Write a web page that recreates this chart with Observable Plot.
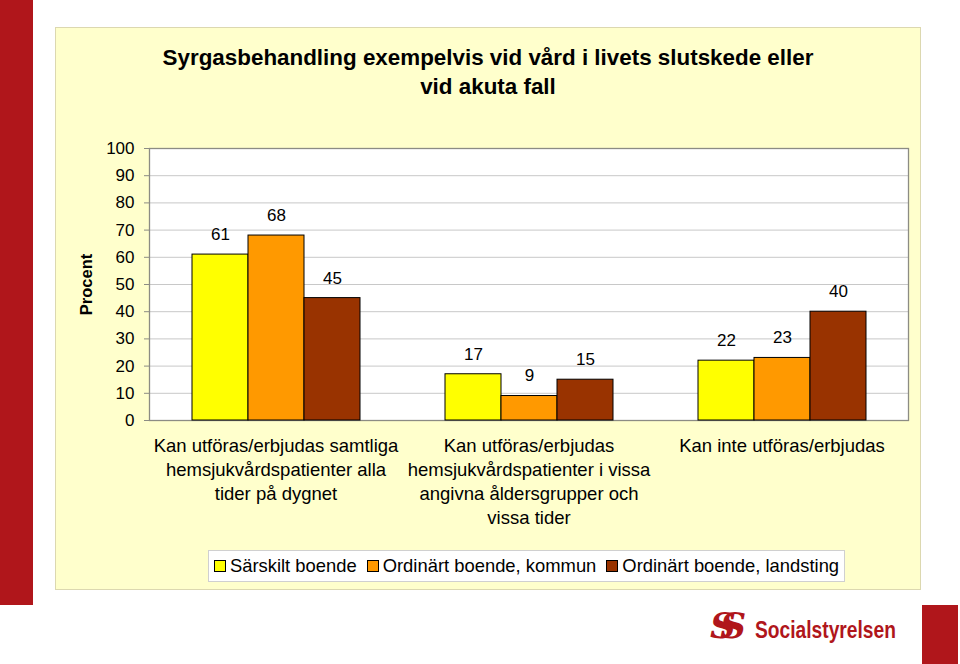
<!DOCTYPE html>
<html><head><meta charset="utf-8">
<script src="https://cdn.jsdelivr.net/npm/d3@7"></script>
<script src="https://cdn.jsdelivr.net/npm/@observablehq/plot@0.6"></script>
<style>
body{margin:0;background:#fff;font-family:"Liberation Sans",Arial,Helvetica,sans-serif;}
#page{position:relative;width:960px;height:664px;overflow:hidden;background:#fff;}
.redL{position:absolute;left:0;top:0;width:33px;height:605px;background:#B0161B;}
.redR{position:absolute;left:922px;top:605px;width:36px;height:59px;background:#B0161B;}
.panel{position:absolute;left:55px;top:27px;width:866px;height:563px;box-sizing:border-box;background:#FFFFCC;border:1px solid #dcd8b0;}
#chart{position:absolute;left:0;top:0;}
.title{position:absolute;left:55px;width:866px;top:43px;text-align:center;font-weight:bold;font-size:22.4px;line-height:29px;color:#000;}
.legend{position:absolute;left:208px;top:550px;width:637px;height:32px;box-sizing:border-box;background:#fff;border:1px solid #d0d0d0;display:flex;align-items:center;justify-content:center;font-size:18.4px;white-space:nowrap;}
.legend .sw{display:inline-block;width:10px;height:10px;border:1px solid #000;margin-right:4px;}
.legend .it{display:flex;align-items:center;margin:0 5px;}
.logo{position:absolute;left:710px;top:612px;height:44px;color:#B0161B;}
.logo .mark{position:absolute;left:0;top:-8px;font-family:"DejaVu Serif",serif;font-weight:bold;font-style:italic;font-size:36px;letter-spacing:-15px;white-space:nowrap;}
.logo .name{position:absolute;left:45px;top:6px;font-family:"Liberation Sans",Arial,sans-serif;font-weight:bold;font-size:24px;white-space:nowrap;transform:scaleX(0.8);transform-origin:0 0;line-height:1;}
</style></head><body>
<div id="page">
  <div class="redL"></div>
  <div class="panel"></div>
  <div id="chart"></div>
  <div class="title">Syrgasbehandling exempelvis vid vård i livets slutskede eller<br>vid akuta fall</div>
  <div class="legend" id="legend"></div>
  <div class="logo"><span class="mark">SS</span><span class="name">Socialstyrelsen</span></div>
  <div class="redR"></div>
</div>
<script>
const categories = [
  "Kan utföras/erbjudas samtliga\nhemsjukvårdspatienter alla\ntider på dygnet",
  "Kan utföras/erbjudas\nhemsjukvårdspatienter i vissa\nangivna åldersgrupper och\nvissa tider",
  "Kan inte utföras/erbjudas"
];
const series = ["Särskilt boende", "Ordinärt boende, kommun", "Ordinärt boende, landsting"];
const colors = ["#FFFF00", "#FF9900", "#993300"];
const valuesSarskilt = [61, 17, 22];
const valuesKommun = [68, 9, 23];
const valuesLandsting = [45, 15, 40];
const yTicks = [0, 10, 20, 30, 40, 50, 60, 70, 80, 90, 100];
const yLabel = "Procent";

const seriesValues = [valuesSarskilt, valuesKommun, valuesLandsting];
const data = categories.flatMap((c, i) => series.map((s, j) => ({group: c, series: s, value: seriesValues[j][i]})));

const chart = Plot.plot({
  width: 960, height: 664,
  marginLeft: 148, marginRight: 52, marginTop: 148, marginBottom: 244,
  style: {background: "transparent", fontFamily: "'Liberation Sans', Arial, sans-serif", overflow: "visible"},
  fx: {domain: categories, padding: 0, axis: null},
  x: {domain: series, paddingInner: 0, paddingOuter: 0.75, axis: null},
  y: {domain: [0, 100], axis: null},
  color: {domain: series, range: colors},
  marks: [
    Plot.frame({fill: "white", stroke: null, facet: "super"}),
    Plot.gridY(yTicks, {stroke: "#c8c8c8", strokeOpacity: 1}),
    Plot.frame({stroke: "#8c8c84", strokeWidth: 1.3, facet: "super"}),
    Plot.axisY(yTicks, {tickSize: 5, tickPadding: 10, fontSize: 17, label: null, stroke: "#8c8c84", fill: "black"}),
    Plot.barY(data, {fx: "group", x: "series", y: "value", fill: "series", stroke: "black", strokeWidth: 1}),
    Plot.text(data, {fx: "group", x: "series", y: "value", text: d => String(d.value), dy: -20, fontSize: 17, fill: "black"}),
    Plot.text(categories, {fx: d => d, text: d => d, frameAnchor: "bottom", lineAnchor: "top", dy: 14, fontSize: 18.5, lineHeight: 1.3, fill: "black"}),
    Plot.text([categories[0]], {fx: d => d, text: () => yLabel, frameAnchor: "left", textAnchor: "middle", rotate: -90, dx: -63, fontWeight: "bold", fontSize: 16.5, fill: "black"})
  ]
});
document.getElementById("chart").appendChild(chart);

const legend = document.getElementById("legend");
series.forEach((s, i) => {
  const it = document.createElement("span");
  it.className = "it";
  const sw = document.createElement("span");
  sw.className = "sw";
  sw.style.background = colors[i];
  it.appendChild(sw);
  it.appendChild(document.createTextNode(s));
  legend.appendChild(it);
});
</script>
</body></html>
